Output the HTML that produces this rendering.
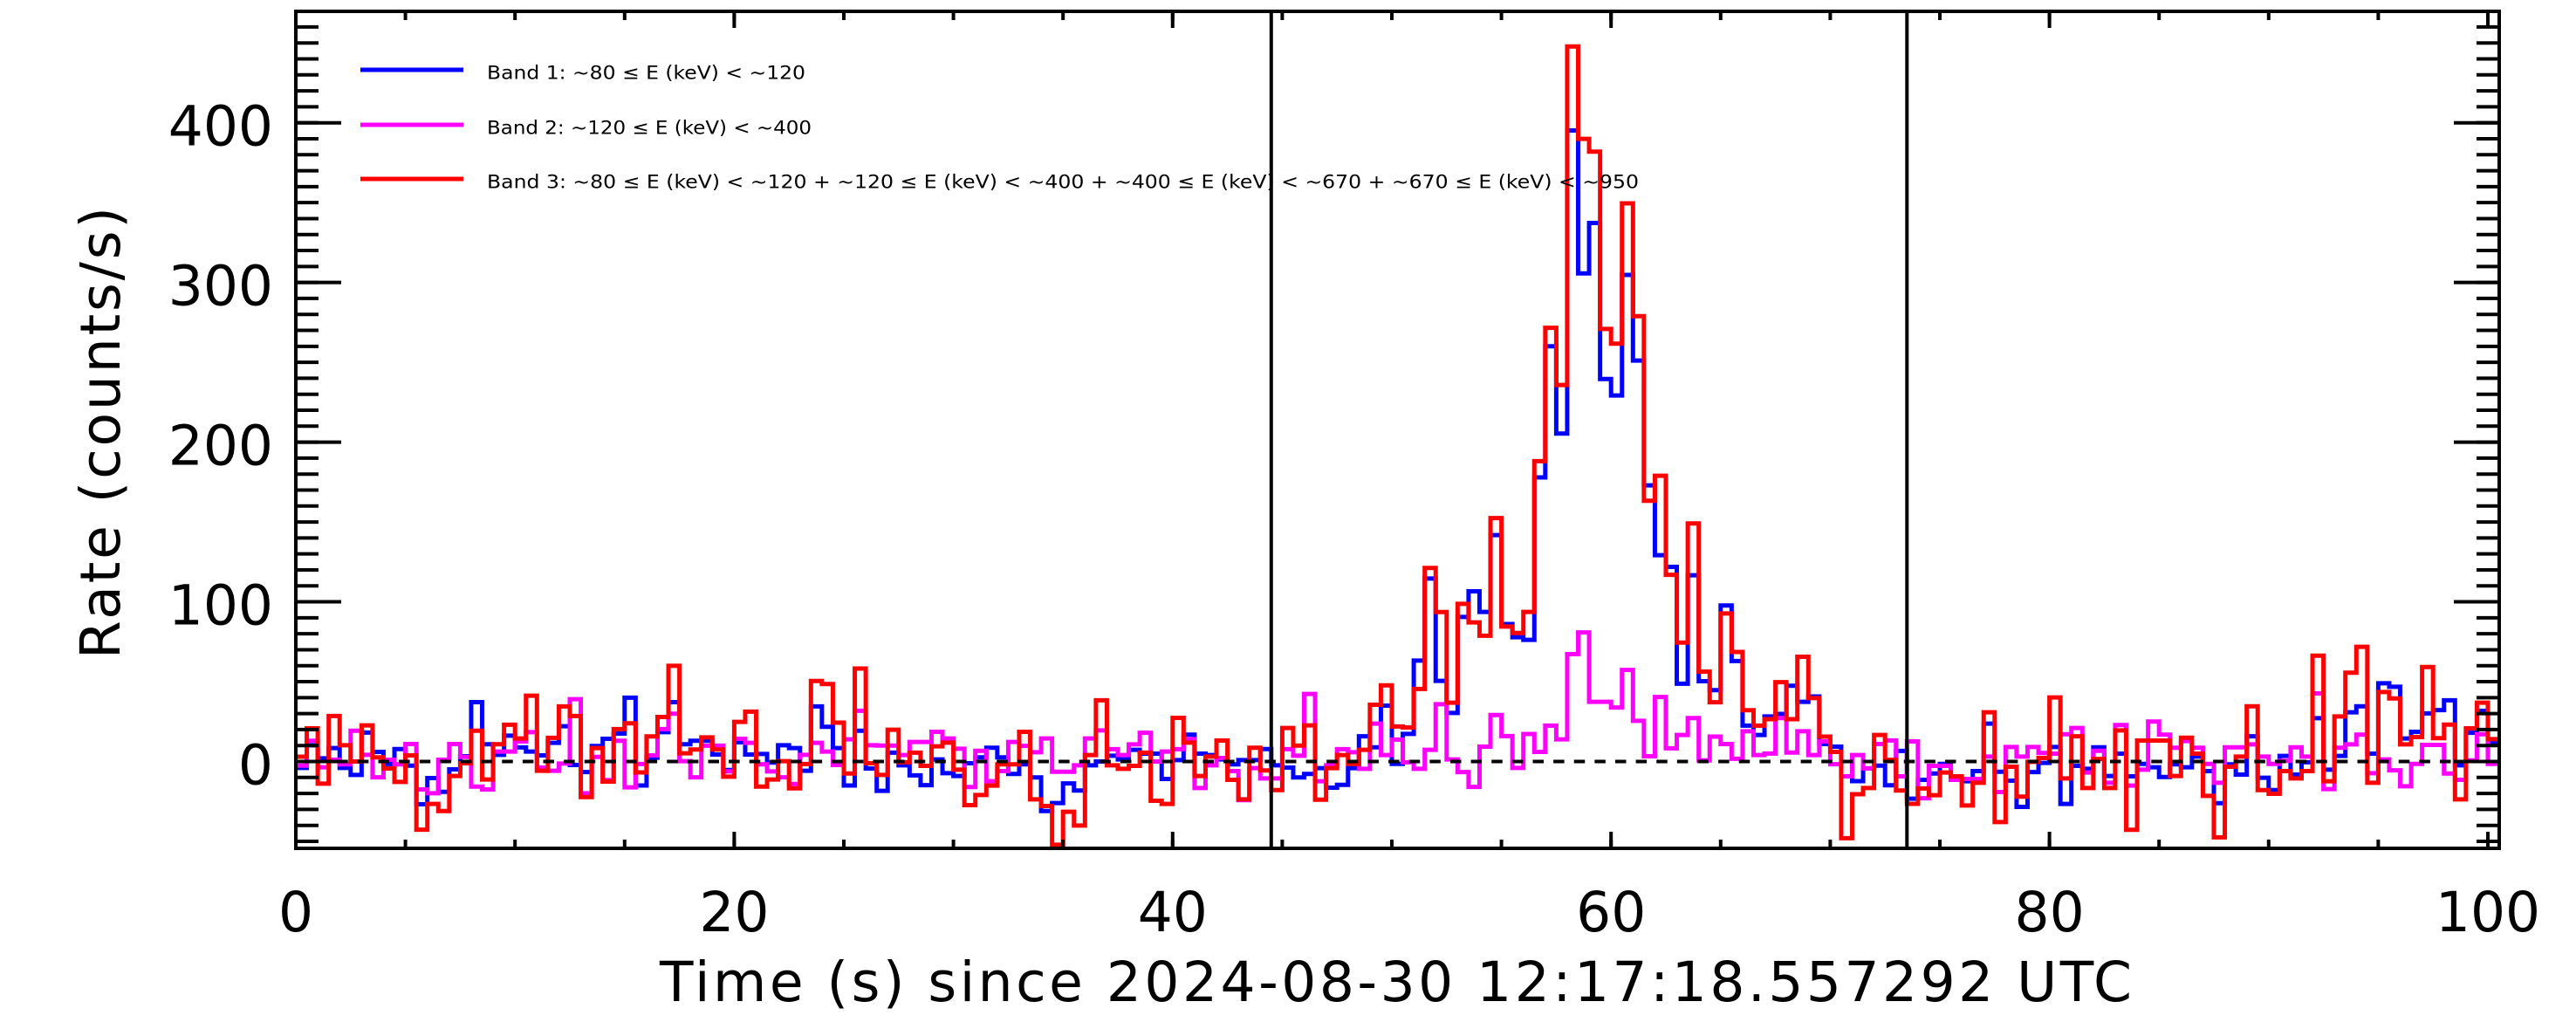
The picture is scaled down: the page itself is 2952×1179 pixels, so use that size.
<!DOCTYPE html>
<html>
<head>
<meta charset="utf-8">
<style>
html,body{margin:0;padding:0;background:#fff;}
svg{display:block;}
text{font-family:"DejaVu Sans","Liberation Sans",sans-serif;fill:#000;}
</style>
</head>
<body>
<svg width="2952" height="1179" viewBox="0 0 2952 1179" xmlns="http://www.w3.org/2000/svg">
<rect x="0" y="0" width="2952" height="1179" fill="#fff"/>

<!-- data series: x in bin index (0.5 s bins), y in counts -->
<g transform="translate(339 872.5) scale(12.56 -1.8296)" fill="none" stroke-linejoin="miter" stroke-linecap="butt">
<path vector-effect="non-scaling-stroke" stroke="#0000ff" stroke-width="5" d="M0 -4 H1 V10.2 H2 V2 H3 V8.4 H4 V-4 H5 V-8.4 H6 V18.1 H7 V6 H8 V-1.6 H9 V7.8 H10 V-2.6 H11 V-26.8 H12 V-10.4 H13 V-19 H14 V-4.9 H15 V3.3 H16 V37.2 H17 V10.8 H18 V4.2 H19 V16.2 H20 V8.8 H21 V6.2 H22 V3.8 H23 V11.7 H24 V22.1 H25 V-2.2 H26 V-6.6 H27 V9.7 H28 V14.2 H29 V17.5 H30 V40 H31 V-15 H32 V2.4 H33 V18.4 H34 V37.2 H35 V10.8 H36 V13 H37 V13 H38 V4.4 H39 V-5.3 H40 V12 H41 V4.4 H42 V4.7 H43 V-0.7 H44 V10.2 H45 V8.4 H46 V-5.8 H47 V34.5 H48 V21.7 H49 V8.4 H50 V-15 H51 V19.3 H52 V-4.4 H53 V-18.4 H54 V5.5 H55 V-2.4 H56 V-8.7 H57 V-14.8 H58 V1.3 H59 V-7.3 H60 V-9.1 H61 V-1.1 H62 V2.6 H63 V8.6 H64 V2.6 H65 V-7.8 H66 V-1.8 H67 V-10 H68 V-31 H69 V-26 H70 V-13.7 H71 V-18.2 H72 V-2.4 H73 V0 H74 V3.6 H75 V1.3 H76 V7.3 H77 V4.9 H78 V4.9 H79 V-10.9 H80 V0.9 H81 V16.8 H82 V4.9 H83 V4 H84 V1.3 H85 V-1.8 H86 V0.9 H87 V0.9 H88 V7.8 H89 V-2.4 H90 V-3.8 H91 V-10 H92 V-7.8 H93 V-4.2 H94 V-16.4 H95 V-14.6 H96 V-4.2 H97 V15.8 H98 V8.9 H99 V35 H100 V-1.5 H101 V17.3 H102 V63.2 H103 V114.6 H104 V50.5 H105 V30.4 H106 V90.5 H107 V106.6 H108 V93.7 H109 V141.8 H110 V86.1 H111 V77.8 H112 V76.2 H113 V177.9 H114 V260 H115 V205.4 H116 V395.2 H117 V305.7 H118 V337.2 H119 V239.5 H120 V229.2 H121 V304.7 H122 V251.1 H123 V172.9 H124 V129.2 H125 V121.9 H126 V48.7 H127 V116.6 H128 V50.3 H129 V44.7 H130 V97.7 H131 V62.9 H132 V22.5 H133 V16.6 H134 V28.2 H135 V29.8 H136 V47.4 H137 V37.4 H138 V40.7 H139 V10.9 H140 V9.3 H141 V-9.3 H142 V-12.3 H143 V-4.3 H144 V-2.6 H145 V-14.9 H146 V6.6 H147 V-23.3 H148 V-11.5 H149 V-7.5 H150 V-1.5 H151 V-11.5 H152 V-12.4 H153 V-6 H154 V23.7 H155 V-6.4 H156 V-12 H157 V-28.4 H158 V-6.6 H159 V-0.9 H160 V9.1 H161 V-26.6 H162 V-2.7 H163 V-4.6 H164 V8.9 H165 V-9.1 H166 V4.9 H167 V-9.3 H168 V-1.5 H169 V-3.6 H170 V-9.7 H171 V-1.8 H172 V-3.6 H173 V3.1 H174 V-6 H175 V-26.1 H176 V-1.8 H177 V-8.2 H178 V15.8 H179 V-10.2 H180 V-17.9 H181 V3.5 H182 V-8.2 H183 V-0.5 H184 V27.1 H185 V-5.1 H186 V3.5 H187 V30.8 H188 V34.6 H189 V4.9 H190 V49 H191 V46.8 H192 V14.4 H193 V18.6 H194 V30.1 H195 V32.2 H196 V38.3 H197 V-2.4 H198 V18 H199 V31.7 H200 V11.7 H201"/>
<path vector-effect="non-scaling-stroke" stroke="#ff00ff" stroke-width="5" d="M0 -2.6 H1 V13 H2 V-3.6 H3 V1.1 H4 V-1.8 H5 V19.3 H6 V4.2 H7 V-9.9 H8 V1.1 H9 V-1.8 H10 V10.9 H11 V-17.5 H12 V-19.9 H13 V1.1 H14 V10.9 H15 V2.9 H16 V-15.7 H17 V-17.5 H18 V6.2 H19 V6.2 H20 V12.6 H21 V18.4 H22 V-3.8 H23 V-5.8 H24 V-1.3 H25 V39 H26 V-19.9 H27 V2.9 H28 V-11.7 H29 V13 H30 V-16.2 H31 V-1.6 H32 V3.8 H33 V20.3 H34 V29.9 H35 V0.2 H36 V-9.9 H37 V9.9 H38 V9.9 H39 V-6.2 H40 V14.2 H41 V11.7 H42 V-1.8 H43 V-6.2 H44 V-9.9 H45 V-14.1 H46 V4.2 H47 V11.7 H48 V6.2 H49 V-2.2 H50 V13.9 H51 V31.8 H52 V10.2 H53 V10 H54 V10 H55 V4 H56 V12.2 H57 V12.2 H58 V18.6 H59 V14.4 H60 V8 H61 V-16 H62 V6.7 H63 V-12.4 H64 V-6 H65 V12.2 H66 V9.8 H67 V5.8 H68 V14.4 H69 V-6.4 H70 V-6.4 H71 V-2.4 H72 V14.4 H73 V19.5 H74 V7.7 H75 V4 H76 V10.7 H77 V18 H78 V0 H79 V6.2 H80 V7.7 H81 V14 H82 V-16.6 H83 V-2.4 H84 V2.2 H85 V-6 H86 V-24.2 H87 V-4.2 H88 V-10.6 H89 V-10.6 H90 V7.7 H91 V3.6 H92 V42.3 H93 V-12.4 H94 V-2.4 H95 V7.7 H96 V5.8 H97 V-4.6 H98 V23.7 H99 V4 H100 V13.7 H101 V-0.5 H102 V-4.6 H103 V7.3 H104 V35.9 H105 V1.3 H106 V-6.6 H107 V-15.9 H108 V9.3 H109 V29.1 H110 V15.9 H111 V-4 H112 V17.2 H113 V6 H114 V22.5 H115 V13.9 H116 V67.2 H117 V80.8 H118 V37.4 H119 V37.4 H120 V33.8 H121 V57.3 H122 V25.5 H123 V3.3 H124 V40.4 H125 V8.3 H126 V16.6 H127 V27.2 H128 V0.7 H129 V15.6 H130 V10.9 H131 V1.7 H132 V18.9 H133 V4 H134 V5 H135 V27.2 H136 V5.6 H137 V18.9 H138 V4 H139 V12.6 H140 V-1.7 H141 V-9.3 H142 V4 H143 V-4.3 H144 V10.9 H145 V13.2 H146 V-9.3 H147 V12.6 H148 V-23 H149 V-2.7 H150 V-2.7 H151 V-11.5 H152 V-10.9 H153 V-10.9 H154 V3.1 H155 V-19.1 H156 V9.1 H157 V3.1 H158 V9.1 H159 V5.3 H160 V4.9 H161 V17.1 H162 V21 H163 V-6.9 H164 V6.7 H165 V-13.3 H166 V22.8 H167 V-15.1 H168 V-5.1 H169 V25 H170 V16.8 H171 V8.6 H172 V12.8 H173 V8.6 H174 V-1.5 H175 V-13.3 H176 V8.9 H177 V8.9 H178 V10.7 H179 V3.1 H180 V-1.5 H181 V0.4 H182 V8.9 H183 V3.1 H184 V42.6 H185 V-17.3 H186 V8.6 H187 V10.7 H188 V16.8 H189 V-7.3 H190 V1.3 H191 V-5.5 H192 V-15.5 H193 V-1.5 H194 V10.4 H195 V10.4 H196 V-7.5 H197 V-11.5 H198 V0.7 H199 V17.1 H200 V-1.5 H201"/>
<path vector-effect="non-scaling-stroke" stroke="#ff0000" stroke-width="5" d="M0 3 H1 V20.8 H2 V-13.9 H3 V28.5 H4 V10.2 H5 V0 H6 V22.6 H7 V2.6 H8 V-4.4 H9 V-12.8 H10 V3.8 H11 V-42.7 H12 V-26.6 H13 V-31 H14 V-9.1 H15 V-1.1 H16 V19.3 H17 V-11.3 H18 V10.8 H19 V23 H20 V14.4 H21 V41.2 H22 V-5.8 H23 V14.8 H24 V34.5 H25 V28.5 H26 V-22.3 H27 V8.4 H28 V-12.6 H29 V20.3 H30 V23.9 H31 V-6.8 H32 V15.7 H33 V27.9 H34 V59.9 H35 V5.1 H36 V7.5 H37 V15.1 H38 V7.5 H39 V-9.5 H40 V24.8 H41 V31.2 H42 V-15.7 H43 V-11.3 H44 V0.2 H45 V-16.8 H46 V-1.6 H47 V50.4 H48 V48.5 H49 V24.3 H50 V-7.5 H51 V58.2 H52 V-1.1 H53 V-8.4 H54 V19.9 H55 V-0.5 H56 V5.5 H57 V-2.7 H58 V9.5 H59 V11.8 H60 V-5.1 H61 V-27.3 H62 V-21 H63 V-15.1 H64 V-1.8 H65 V-1.8 H66 V18.6 H67 V-23.7 H68 V-27.9 H69 V-52.1 H70 V-31.5 H71 V-40.1 H72 V4 H73 V38.3 H74 V-2.4 H75 V-4.6 H76 V-2.7 H77 V5.5 H78 V-24.6 H79 V-26.6 H80 V27.3 H81 V11.8 H82 V-9.1 H83 V3.1 H84 V13.1 H85 V-11.5 H86 V-23.7 H87 V8.6 H88 V-5.6 H89 V-17.9 H90 V21 H91 V10 H92 V22.6 H93 V-23.9 H94 V-4.2 H95 V4 H96 V-1.5 H97 V7.3 H98 V35.5 H99 V47.7 H100 V21.9 H101 V21.3 H102 V45.4 H103 V121.2 H104 V93.6 H105 V36.8 H106 V98.7 H107 V87.1 H108 V78.8 H109 V152.4 H110 V84.5 H111 V80.5 H112 V93.7 H113 V188.1 H114 V271.6 H115 V235.8 H116 V447.8 H117 V389.9 H118 V381.9 H119 V270.9 H120 V261.7 H121 V349.5 H122 V278.9 H123 V163.3 H124 V178.9 H125 V116.9 H126 V74.5 H127 V149.1 H128 V56.3 H129 V37.1 H130 V92.7 H131 V68.6 H132 V32.1 H133 V22.5 H134 V26.5 H135 V49.7 H136 V26.5 H137 V65.6 H138 V39.7 H139 V15.6 H140 V6 H141 V-48 H142 V-20.5 H143 V-16.6 H144 V16.6 H145 V1 H146 V-18.2 H147 V-26.5 H148 V-16.9 H149 V-21.1 H150 V-6.9 H151 V-9.3 H152 V-27.5 H153 V-13.3 H154 V30.8 H155 V-37.9 H156 V-3.3 H157 V-22 H158 V-0.2 H159 V2.2 H160 V40.1 H161 V-10.6 H162 V15.8 H163 V-16.6 H164 V1.6 H165 V-16.6 H166 V19.5 H167 V-42.8 H168 V13.1 H169 V13.1 H170 V13.1 H171 V-9.1 H172 V14.9 H173 V4.9 H174 V-21.5 H175 V-47.5 H176 V-3.3 H177 V3.1 H178 V34.6 H179 V-17.9 H180 V-20.2 H181 V-6 H182 V-10.6 H183 V-6 H184 V66.3 H185 V-12.4 H186 V28.2 H187 V55.6 H188 V71.8 H189 V-13.3 H190 V43.5 H191 V39.5 H192 V10.7 H193 V15.3 H194 V59.2 H195 V14.6 H196 V23.1 H197 V-23.7 H198 V20.8 H199 V36.8 H200 V14 H201"/>
</g>

<!-- zero dashed line -->
<line x1="339" y1="872.5" x2="2851" y2="872.5" stroke="#000" stroke-width="4" stroke-dasharray="12.5 11.125"/>

<!-- vertical marker lines -->
<line x1="1456.8" y1="13" x2="1456.8" y2="972" stroke="#000" stroke-width="4"/>
<line x1="2185.3" y1="13" x2="2185.3" y2="972" stroke="#000" stroke-width="4"/>

<!-- axes box -->
<rect x="339" y="13" width="2525" height="959" fill="none" stroke="#000" stroke-width="4"/>

<!-- y minor ticks (left & right) -->
<line x1="352" y1="28.9" x2="352" y2="972" stroke="#000" stroke-width="26" stroke-dasharray="4 14.296"/>
<line x1="2851" y1="28.9" x2="2851" y2="972" stroke="#000" stroke-width="26" stroke-dasharray="4 14.296"/>
<!-- y major ticks -->
<g stroke="#000" stroke-width="4">
<line x1="339" y1="872.5" x2="391" y2="872.5"/>
<line x1="339" y1="689.5" x2="391" y2="689.5"/>
<line x1="339" y1="506.6" x2="391" y2="506.6"/>
<line x1="339" y1="323.6" x2="391" y2="323.6"/>
<line x1="339" y1="140.7" x2="391" y2="140.7"/>
<line x1="2812" y1="872.5" x2="2864" y2="872.5"/>
<line x1="2812" y1="689.5" x2="2864" y2="689.5"/>
<line x1="2812" y1="506.6" x2="2864" y2="506.6"/>
<line x1="2812" y1="323.6" x2="2864" y2="323.6"/>
<line x1="2812" y1="140.7" x2="2864" y2="140.7"/>
</g>

<!-- x minor ticks (bottom & top) -->
<line x1="337" y1="967" x2="2856" y2="967" stroke="#000" stroke-width="10" stroke-dasharray="4 121.6"/>
<line x1="337" y1="18" x2="2856" y2="18" stroke="#000" stroke-width="10" stroke-dasharray="4 121.6"/>
<!-- x major ticks -->
<g stroke="#000" stroke-width="4">
<line x1="841.4" y1="953" x2="841.4" y2="972"/>
<line x1="1343.8" y1="953" x2="1343.8" y2="972"/>
<line x1="1846.2" y1="953" x2="1846.2" y2="972"/>
<line x1="2348.6" y1="953" x2="2348.6" y2="972"/>
<line x1="2851" y1="953" x2="2851" y2="972"/>
<line x1="841.4" y1="13" x2="841.4" y2="32"/>
<line x1="1343.8" y1="13" x2="1343.8" y2="32"/>
<line x1="1846.2" y1="13" x2="1846.2" y2="32"/>
<line x1="2348.6" y1="13" x2="2348.6" y2="32"/>
<line x1="2851" y1="13" x2="2851" y2="32"/>
</g>

<!-- x tick labels -->
<g font-size="63" text-anchor="middle">
<text x="339" y="1067">0</text>
<text x="841.4" y="1067">20</text>
<text x="1343.8" y="1067">40</text>
<text x="1846.2" y="1067">60</text>
<text x="2348.6" y="1067">80</text>
<text x="2851" y="1067">100</text>
</g>

<!-- y tick labels -->
<g font-size="63" text-anchor="end">
<text x="313" y="898.5">0</text>
<text x="313" y="715.5">100</text>
<text x="313" y="532.6">200</text>
<text x="313" y="349.6">300</text>
<text x="313" y="166.7">400</text>
</g>

<!-- axis titles -->
<text x="756" y="1147" font-size="63" textLength="1687" lengthAdjust="spacing">Time (s) since 2024-08-30 12:17:18.557292 UTC</text>
<text transform="translate(137 755) rotate(-90)" x="0" y="0" font-size="63" textLength="518" lengthAdjust="spacing">Rate (counts/s)</text>

<!-- legend -->
<line x1="413" y1="80" x2="531" y2="80" stroke="#0000ff" stroke-width="5"/>
<line x1="413" y1="143" x2="531" y2="143" stroke="#ff00ff" stroke-width="5"/>
<line x1="413" y1="205" x2="531" y2="205" stroke="#ff0000" stroke-width="5"/>
<g font-size="21">
<text x="558" y="90.5" textLength="365" lengthAdjust="spacingAndGlyphs">Band 1: ~80 ≤ E (keV) &lt; ~120</text>
<text x="558" y="153.5" textLength="372" lengthAdjust="spacingAndGlyphs">Band 2: ~120 ≤ E (keV) &lt; ~400</text>
<text x="558" y="215.5" textLength="1320" lengthAdjust="spacingAndGlyphs">Band 3: ~80 ≤ E (keV) &lt; ~120 + ~120 ≤ E (keV) &lt; ~400 + ~400 ≤ E (keV) &lt; ~670 + ~670 ≤ E (keV) &lt; ~950</text>
</g>
</svg>
</body>
</html>
